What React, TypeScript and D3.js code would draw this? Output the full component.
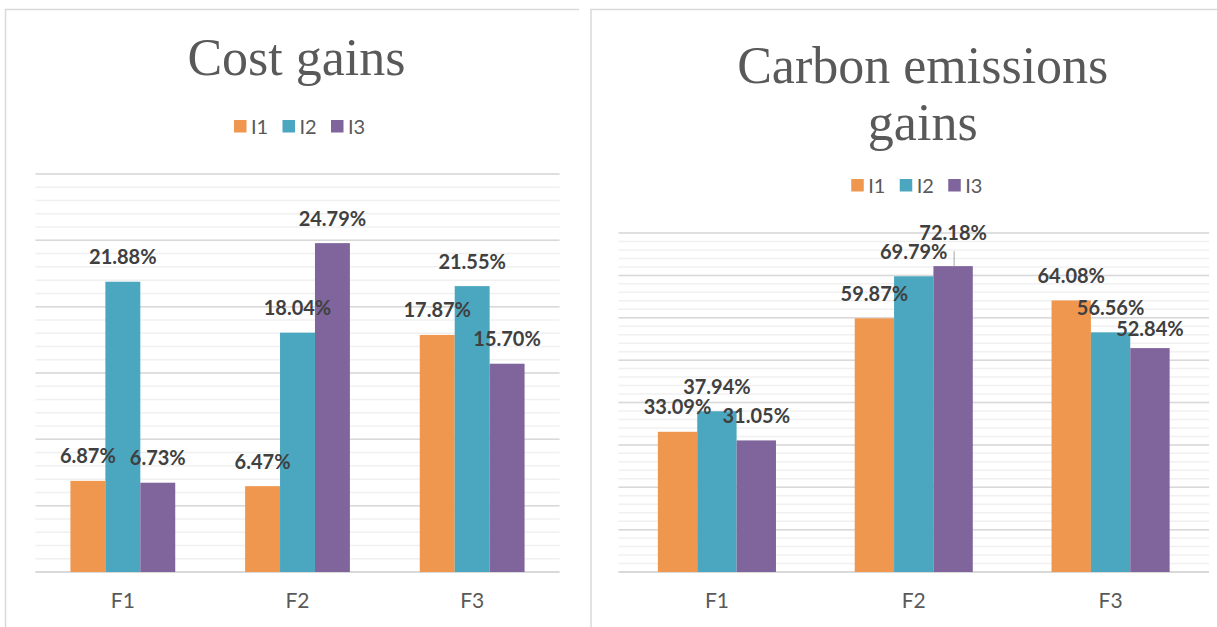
import React from "react";
import * as d3 from "d3";

// categories and series
const categories = ["F1", "F2", "F3"];
const seriesNames = ["I1", "I2", "I3"];
const seriesColors = ["#F0974F", "#4BA7BF", "#7F659C"];

// Cost gains (%)
const costI1 = [6.87, 6.47, 17.87];
const costI2 = [21.88, 18.04, 21.55];
const costI3 = [6.73, 24.79, 15.7];

// Carbon emissions gains (%)
const carbonI1 = [33.09, 59.87, 64.08];
const carbonI2 = [37.94, 69.79, 56.56];
const carbonI3 = [31.05, 72.18, 52.84];

// hand-moved labels in the original, px [series][category]
const carbonLabelLift = [
  [0, 0, 0],
  [0, 0, 0],
  [0, 9, -5],
];
const costLabelLift = [
  [0, 0, 0],
  [0, 0, 0],
  [0, 0, 0],
];

const W = 1217;
const H = 627;
const gridMajor = "#d9d9d9";
const gridMinor = "#f0f0f0";
const textGray = "#595959";
const labelGray = "#404040";
const sans = "Lato, 'Open Sans', sans-serif";
const serif = "'Liberation Serif', 'DejaVu Serif', serif";

type ChartProps = {
  title: string[];
  titleY: number;
  titleDx: number;
  legendY: number;
  legendDx: number;
  series: number[][];
  lift: number[][];
  x0: number;
  x1: number;
  yTop: number;
  yBase: number;
  max: number;
  majorStep: number;
  minorStep: number;
};

function Chart(p: ChartProps) {
  const x = d3.scaleBand<string>().domain(categories).range([p.x0, p.x1]);
  const bw = x.bandwidth();
  const xs = d3
    .scaleBand<string>()
    .domain(seriesNames)
    .range([bw * 0.2, bw * 0.8]);
  const y = d3.scaleLinear().domain([0, p.max]).range([p.yBase, p.yTop]);

  const minorTicks = d3.range(0, p.max + 0.001, p.minorStep);
  const majorTicks = d3.range(0, p.max + 0.001, p.majorStep);
  const cx = (p.x0 + p.x1) / 2;

  const legendStep = 48.5;
  const legendStart = cx + p.legendDx - (legendStep * 2 + 36) / 2;

  const bars = p.series.flatMap((vals, si) =>
    vals.map((v, ci) => {
      const bx = (x(categories[ci]) ?? 0) + (xs(seriesNames[si]) ?? 0);
      return { si, ci, v, bx, top: y(v), mid: bx + xs.bandwidth() / 2, lift: p.lift[si][ci] };
    })
  );

  return (
    <g>
      {p.title.map((t, i) => (
        <text
          key={t}
          x={cx + p.titleDx}
          y={p.titleY + i * 57}
          textAnchor="middle"
          fontFamily={serif}
          fontSize={52}
          fill={textGray}
        >
          {t}
        </text>
      ))}

      {seriesNames.map((s, i) => (
        <g key={s} transform={`translate(${legendStart + i * legendStep},${p.legendY})`}>
          <rect x={0} y={-6.5} width={12.5} height={12.5} fill={seriesColors[i]} />
          <text x={17} y={7} fontFamily={sans} fontSize={20} fill={textGray}>
            {s}
          </text>
        </g>
      ))}

      {minorTicks.map((t) => (
        <line
          key={"mi" + t}
          x1={p.x0}
          x2={p.x1}
          y1={y(t)}
          y2={y(t)}
          stroke={gridMinor}
          strokeWidth={1.5}
        />
      ))}
      {majorTicks.map((t) => (
        <line
          key={"ma" + t}
          x1={p.x0}
          x2={p.x1}
          y1={y(t)}
          y2={y(t)}
          stroke={gridMajor}
          strokeWidth={t === 0 ? 2 : 1.5}
        />
      ))}

      {bars.map((b) => (
        <rect
          key={"b" + b.si + b.ci}
          x={b.bx}
          y={b.top}
          width={xs.bandwidth()}
          height={p.yBase - b.top}
          fill={seriesColors[b.si]}
        />
      ))}

      {bars.map((b) => (
        <g key={"l" + b.si + b.ci}>
          {b.lift > 5 && (
            <line
              x1={b.mid + 1}
              x2={b.mid + 1}
              y1={b.top}
              y2={b.top - 15}
              stroke="#a6a6a6"
              strokeWidth={1}
            />
          )}
          <text
            x={b.mid}
            y={b.top - 17.5 - b.lift}
            textAnchor="middle"
            fontFamily={sans}
            fontWeight="bold"
            fontSize={20}
            fill={labelGray}
          >
            {b.v.toFixed(2) + "%"}
          </text>
        </g>
      ))}

      {categories.map((c) => (
        <text
          key={c}
          x={(x(c) ?? 0) + bw / 2}
          y={608}
          textAnchor="middle"
          fontFamily={sans}
          fontSize={21}
          fill={textGray}
        >
          {c}
        </text>
      ))}
    </g>
  );
}

export default function App() {
  return (
    <svg
      width={W}
      height={H}
      style={{ position: "absolute", left: 0, top: 0, background: "#fff" }}
    >
      <rect x={0} y={0} width={W} height={H} fill="#fff" />
      <path d={`M5.5,${H} V9.5 H579`} fill="none" stroke="#d9d9d9" strokeWidth={1.5} />
      <path d={`M591,${H} V9.5 H${W}`} fill="none" stroke="#d9d9d9" strokeWidth={1.5} />

      <Chart
        title={["Cost gains"]}
        titleY={75}
        titleDx={-1}
        legendY={126.5}
        legendDx={3}
        series={[costI1, costI2, costI3]}
        lift={costLabelLift}
        x0={35.5}
        x1={559.5}
        yTop={174}
        yBase={572}
        max={30}
        majorStep={5}
        minorStep={1}
      />
      <Chart
        title={["Carbon emissions", "gains"]}
        titleY={83}
        titleDx={9}
        legendY={185.5}
        legendDx={4}
        series={[carbonI1, carbonI2, carbonI3]}
        lift={carbonLabelLift}
        x0={618.5}
        x1={1209}
        yTop={233}
        yBase={572}
        max={80}
        majorStep={10}
        minorStep={2}
      />
    </svg>
  );
}
